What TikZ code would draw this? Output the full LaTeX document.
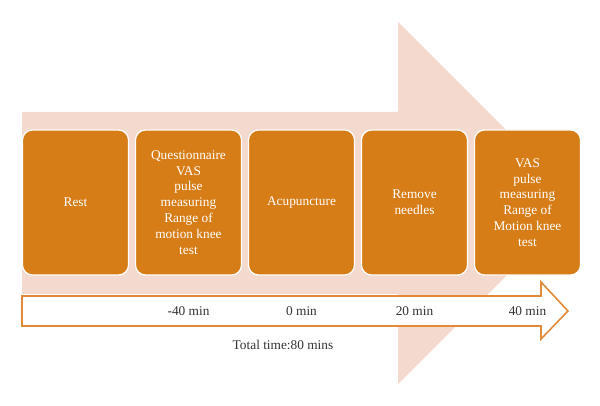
\documentclass[tikz,border=0pt]{standalone}
\usepackage{fontspec}
\setmainfont{Liberation Serif}
\definecolor{boxorange}{HTML}{D67D17}
\definecolor{paleorange}{HTML}{F4D9CE}
\definecolor{lineorange}{HTML}{E28A3A}
\definecolor{timegray}{HTML}{333333}
\def\stagesep{84.75pt}

\begin{document}
\begin{tikzpicture}[x=0.75pt, y=-0.75pt, node distance=\stagesep, every node/.append style={font=\fontsize{10}{11.9}\selectfont}]
    \tikzstyle{stage}=[rectangle, rounded corners=7.5pt, draw=white, line width=0.9pt, fill=boxorange, text=white, minimum width=79.5pt, minimum height=108.75pt, align=center, inner sep=0pt]
    \tikzstyle{time}=[text=timegray, node distance=81.4pt]
    \useasboundingbox (0,0) rectangle (600,406);

    % Draw the background arrow
    \fill[paleorange] (22,112) -- (398,112) -- (398,22) -- (579,203) -- (398,384) -- (398,294) -- (22,294) -- cycle;
    % Draw the time line arrow
    \draw[lineorange, fill=white, line width=1.2pt] (22,296) -- (541,296) -- (541,282) -- (568,311) -- (541,339) -- (541,326) -- (22,326) -- cycle;

    % Draw the stages
    \node[stage] (Rest) at (75.5,202.5) {Rest};
    \node[stage, right of=Rest] (Questionnaire) {Questionnaire\\VAS\\pulse\\measuring\\Range of\\motion knee\\test};
    \node[stage, right of=Questionnaire] (Acupuncture) {Acupuncture};
    \node[stage, right of=Acupuncture] (Remove) {Remove\\needles};
    \node[stage, right of=Remove] (Measure) {VAS\\pulse\\measuring\\Range of\\Motion knee\\test};

    % Draw the times below the stages
    \node[time, below of=Questionnaire] (T-40) {-40 min};
    \node[time, below of=Acupuncture] (T0) {0 min};
    \node[time, below of=Remove] (T20) {20 min};
    \node[time, below of=Measure] (T40) {40 min};
    \node[time] (Total) at (283,345) {Total time:80 mins};

\end{tikzpicture}
\end{document}
